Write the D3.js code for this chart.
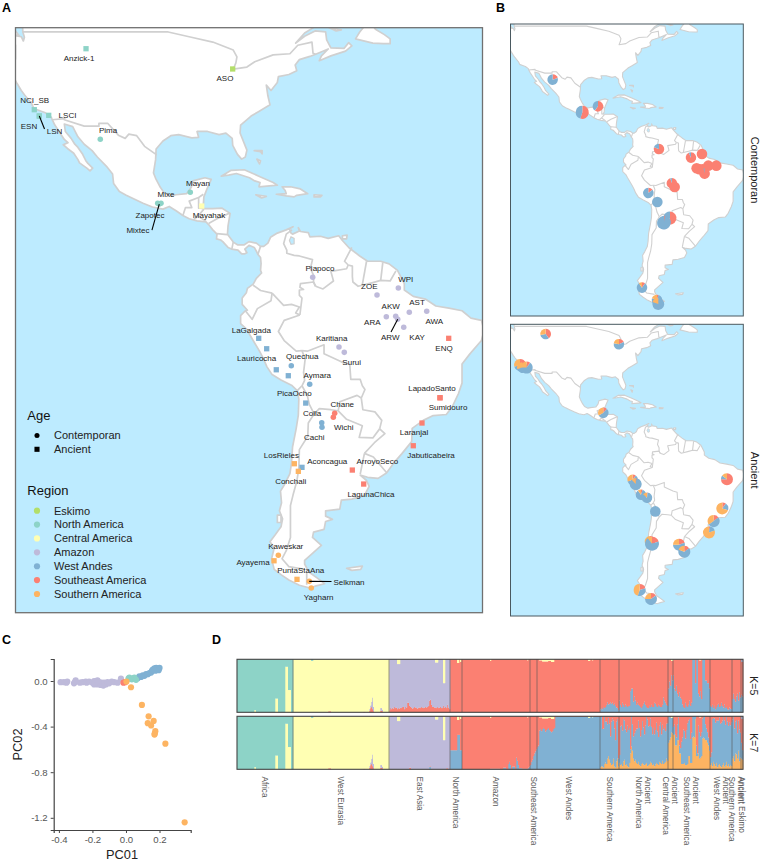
<!DOCTYPE html>
<html><head><meta charset="utf-8">
<script src="https://d3js.org/d3.v7.min.js"></script>
<style>
html,body{margin:0;padding:0;background:#fff}
svg{display:block}
text{font-family:"Liberation Sans",Arial,sans-serif}
</style></head><body>
<svg id="fig" width="763" height="861"></svg>
<script>
/* ---------- geography, lon / lat ---------- */
const americasCoast=[[-122.8,51],[-122.7,49],[-122.4,48],[-122.6,47.3],[-123,48.1],[-124.7,48.4],[-124.1,46.5],[-124.1,44],[-124.4,42.5],[-124.4,40.4],[-123.8,39.3],[-123,38],[-122.4,37.2],[-121.9,36.6],[-121,35.5],[-120.6,34.6],[-119.2,34.1],[-118.4,33.8],[-117.3,33],[-117.1,32.5],[-116.6,31.5],[-115.8,30.3],[-114.8,28.8],[-114.1,28.2],[-115,27.8],[-114.2,27.1],[-113,26.2],[-112.2,25],[-111.9,24.4],[-110.5,23.4],[-109.9,22.9],[-109.4,23.4],[-110.3,24.3],[-110.7,24.8],[-111.3,26],[-112.2,27.3],[-112.8,27.9],[-113.5,29],[-114.6,30.3],[-114.8,31.7],[-113.2,31.2],[-112.2,29.3],[-111,27.9],[-109.5,26.7],[-108.5,25.5],[-106.8,23.8],[-105.6,22.3],[-105.4,20.5],[-104.3,19],[-103,18.3],[-101.5,17.6],[-99.8,16.8],[-98,16.1],[-96,15.7],[-94.8,16.2],[-93.5,15.4],[-92.2,14.5],[-91,13.9],[-89.5,13.5],[-87.8,13.3],[-87.3,12.8],[-86.5,11.8],[-85.7,11],[-85.8,10.1],[-85,9.9],[-84.6,9.6],[-83.6,8.5],[-82.9,8.2],[-81.7,8],[-81,7.3],[-80.4,7.3],[-80,7.5],[-80.4,8.2],[-79.6,8.9],[-78.6,8.5],[-78.2,7.8],[-77.9,7.2],[-77.4,6.6],[-77.3,5.5],[-77.4,4.2],[-77.2,3.7],[-78.2,2.7],[-78.8,1.6],[-79.9,0.8],[-80.1,0],[-80.9,-1],[-80.9,-2.2],[-79.9,-3.3],[-80.3,-3.4],[-81.2,-4.3],[-81.2,-5.8],[-80,-6.9],[-79.4,-8],[-78.5,-9.5],[-77.6,-11],[-76.9,-12.3],[-76.2,-13.9],[-75.2,-15.4],[-73.5,-16.4],[-71.5,-17.4],[-70.4,-18.4],[-70.1,-20],[-70.2,-23],[-70.6,-25.5],[-71.3,-29],[-71.5,-32],[-71.8,-34],[-72.8,-36],[-73.6,-37.3],[-73.4,-39.5],[-73.8,-41],[-73.2,-42.5],[-73.5,-44],[-74.6,-45.5],[-75.6,-46.8],[-74.8,-48],[-75.3,-50],[-74.8,-52],[-73.5,-53],[-72,-54],[-70,-55],[-68,-55.5],[-66.8,-55.1],[-65.2,-54.7],[-66.5,-53.7],[-68.2,-52.5],[-69,-51],[-69,-50.3],[-67.5,-49],[-65.8,-47.5],[-67.5,-46],[-67.3,-45],[-65.3,-44.5],[-65,-43],[-63.7,-42.6],[-65,-42],[-65,-41],[-62.3,-40.7],[-62,-39],[-60,-38.8],[-57.6,-38.1],[-56.7,-36.4],[-57.2,-35.3],[-58.4,-34.3],[-57,-34.7],[-55,-34.9],[-53.4,-33.9],[-52,-32],[-50.5,-30.3],[-48.6,-28],[-48.5,-25.5],[-46.4,-24],[-44.5,-23.1],[-42,-22.9],[-40.9,-21.5],[-39.7,-19],[-39,-17],[-39,-13.4],[-37.5,-11.5],[-35.3,-9],[-34.8,-7.1],[-35.3,-5.2],[-37.3,-4.8],[-39,-3.4],[-41.5,-2.9],[-44,-2.5],[-46,-1.2],[-48.3,-0.7],[-50,0.5],[-50,1.7],[-51.3,4.2],[-52.9,5.4],[-54.5,5.9],[-57,5.9],[-58.5,6.9],[-60.5,8.4],[-61.8,9.8],[-62.5,10.7],[-64.5,10.2],[-66,10.6],[-68,10.5],[-68.3,11.3],[-69.8,11.5],[-70.2,12.2],[-70,11.6],[-71.3,11],[-71.6,11.2],[-71.9,12],[-71.2,12.4],[-72.5,11.8],[-74.2,11.2],[-75.5,10.4],[-76,9.3],[-76.8,8.7],[-77.4,8.7],[-78.2,9.3],[-79.6,9.6],[-80.5,9],[-81.8,9],[-82.6,9.5],[-83.7,11],[-83.6,12.5],[-83.2,14.9],[-84.8,15.9],[-86.5,15.8],[-88.2,15.8],[-88.9,15.9],[-88.3,16.5],[-88.2,18],[-87.6,19.5],[-86.8,21.3],[-88,21.6],[-90.3,21],[-90.6,19.8],[-91.5,18.6],[-93.5,18.4],[-94.5,18.2],[-95.8,18.8],[-96.5,19.8],[-97.4,21.5],[-97.8,22.5],[-97.4,25],[-97.3,27],[-96,28.5],[-94.5,29.5],[-93,29.7],[-90.5,29.1],[-89.2,29.2],[-89.5,30.3],[-87.5,30.3],[-85.3,29.7],[-84,30],[-82.8,29],[-82.7,27.7],[-81.8,26],[-81,25.1],[-80.3,25.5],[-80,26.8],[-81.3,30],[-81.2,31.5],[-79.2,33.2],[-77.8,34],[-75.6,35.3],[-76,37],[-76.3,39],[-75.4,38],[-74.2,39.5],[-74,40.6],[-72,41],[-70.5,41.7],[-70.8,42.8],[-70,43.8],[-68,44.4],[-66.9,44.8],[-64.5,45.8],[-65.8,44.5],[-66.2,43.6],[-64,44.5],[-61.2,45.4],[-60,46.4],[-60.6,47],[-61.5,45.9],[-64,46],[-64.8,47.5],[-65,49],[-67,49.2],[-69,48.2],[-70.7,46.9],[-69,48.8],[-67,50],[-60,50.3],[-56,52],[-60,55],[-90,60],[-122.8,60]];
const islands=[
 [[-125.5,51],[-123.4,48.3],[-125,48.6],[-126.5,49.8]],
 [[-59.3,47.7],[-56,46.9],[-54,46.8],[-52.7,46.8],[-52.7,47.7],[-53.8,48.5],[-55.5,49.5],[-56,50.2],[-57.5,50.2],[-58.5,49]],
 [[-64.5,49.9],[-62,49.4],[-63,49.2]],
 [[-84.9,21.9],[-83,23],[-80.5,23.1],[-77.5,21.8],[-75,20.7],[-74.2,20.2],[-77.7,19.9],[-77.5,20.7],[-78.5,21],[-79.5,21.6],[-82,22.4],[-83.5,22.1]],
 [[-78.3,18.4],[-76.3,18.1],[-77.2,17.8]],
 [[-74.4,18.5],[-72.5,18.2],[-71,18],[-70.5,18.3],[-68.4,18.6],[-69.8,19.5],[-71.7,19.9],[-73.3,19.9],[-72.7,19.2],[-72.5,18.6]],
 [[-67.2,18.4],[-65.7,18.3],[-66,18],[-67.2,18]],
 [[-78.1,25.1],[-77.6,24.2],[-77.4,24.8]],
 [[-78.6,26.7],[-77.1,26.7],[-77.1,26.1],[-77.4,26.5]],
 [[-61.8,10.7],[-60.9,10.8],[-61,10.1],[-61.8,10.1]],
 [[-61,-51.8],[-58,-51.4],[-58.3,-52],[-60,-52.2]],
 [[-74.2,-41.8],[-73.5,-41.8],[-73.5,-43.2],[-74.2,-43.2]]
];
const lakeMaracaibo=[[-71.6,10.5],[-71,10.2],[-71,9.2],[-71.6,9.1],[-71.9,9.8]];
const borders=[
 [[-122.8,49],[-95,49],[-90.8,48.05],[-86.5,47.1],[-82.6,45.6],[-81.9,44.3],[-82.1,43.2],[-82.6,42],[-80,42.4],[-78.5,43.4],[-75,44.7],[-71.8,44.9],[-70.3,46.5],[-67.6,47.1],[-67.4,45],[-66.9,44.8]],
 [[-117.1,32.5],[-114.7,32.7],[-114.8,32.5],[-111,31.3],[-108.2,31.3],[-108.2,31.8],[-106.5,31.8],[-104.5,29.6],[-103.2,29],[-102.5,29.8],[-101,29.5],[-99.5,27.5],[-97.2,25.9]],
 [[-92.2,14.5],[-91.7,16],[-90.5,16],[-91,17.2],[-89.2,17.9],[-88.3,18.5]],
 [[-89.2,17.9],[-89.2,15.9],[-88.9,15.9]],
 [[-88.2,15.7],[-89.3,14.4],[-90.1,13.8]],
 [[-89.3,14.4],[-87.8,13.4]],
 [[-87.3,13],[-85.7,13.9],[-83.2,15]],
 [[-85.7,11.1],[-83.7,10.9]],
 [[-82.6,9.5],[-82.9,8.1]],
 [[-77.4,8.7],[-77.9,7.2]],
 [[-71.4,11.8],[-72.5,11],[-73,9.2],[-72.4,8],[-72.4,7.4],[-71,7],[-70,6.9],[-67.5,6.2],[-67.9,4.5],[-67.3,3.3],[-67.3,2],[-66.9,1.2]],
 [[-66.9,1.2],[-67.3,2],[-69.8,1.7],[-69.9,1],[-69.2,0.6],[-70,0.5],[-70,-0.5],[-69.5,-1],[-69.9,-4.2]],
 [[-69.9,-4.2],[-70.7,-3.8],[-70,-2.7],[-71.5,-2.2],[-73,-2.4],[-75.2,-0.1]],
 [[-75.2,-0.1],[-77.4,0.4],[-78.8,1.4]],
 [[-75.2,-0.1],[-75.4,-1.5],[-78,-3],[-79,-5],[-80.3,-3.4]],
 [[-66.9,1.2],[-65.5,0.7],[-63.5,2.2],[-64,4],[-61,4.5],[-60.7,5.2]],
 [[-60.7,5.2],[-61.4,5.9],[-60,8.5]],
 [[-60.7,5.2],[-59.9,5],[-59.9,3],[-59.8,2],[-58.8,1.2],[-56,1.9],[-54.5,2.3],[-52.7,2.2],[-51.6,4.1]],
 [[-58,1.5],[-57.2,5.9]],
 [[-54.5,2.3],[-54.1,5.7]],
 [[-69.9,-4.2],[-72.9,-5.2],[-74,-7.3],[-72.9,-9],[-70.6,-11],[-69.5,-10.9]],
 [[-69.5,-10.9],[-68.9,-12.5],[-69.2,-15],[-69,-16.5],[-69.5,-17.5]],
 [[-69.5,-17.5],[-70.4,-18.4]],
 [[-69.5,-10.9],[-68.5,-11],[-65.3,-9.8],[-65.3,-11.5],[-62,-13],[-60.4,-13.5],[-60.2,-16.3],[-58.4,-16.3],[-58,-17.5],[-57.5,-18.2],[-58.2,-19.8]],
 [[-58.2,-19.8],[-59,-19.3],[-62.3,-20.5],[-62.6,-22.2]],
 [[-62.6,-22.2],[-64,-22],[-66.2,-21.8],[-67.2,-22.8]],
 [[-69.5,-17.5],[-68.5,-19.3],[-68.1,-21],[-67.2,-22.8]],
 [[-67.2,-22.8],[-68.3,-24.5],[-68.4,-27],[-70,-29.5],[-70.1,-33],[-70.5,-35.5],[-71.2,-38],[-71.7,-40],[-71.7,-44],[-71.7,-46],[-72.5,-48.5],[-73.3,-50],[-72,-51.5],[-69,-52]],
 [[-68.6,-52.6],[-68.6,-54.9]],
 [[-62.6,-22.2],[-61,-23.8],[-58,-25],[-58.6,-27.2],[-56,-27.3],[-54.7,-25.6]],
 [[-58.2,-19.8],[-57.9,-22],[-55.6,-22.4],[-54.3,-24],[-54.7,-25.6]],
 [[-54.7,-25.6],[-53.7,-26.5],[-55.7,-28.2],[-57.6,-30.2]],
 [[-57.6,-30.2],[-58.2,-33.1],[-58.4,-34.1]],
 [[-57.6,-30.2],[-55.9,-30.9],[-53.4,-33.8]]
];
/* ---------- panel A sites ---------- */
const regionNames=["Eskimo","North America","Central America","Amazon","West Andes","Southeast America","Southern America"];
const regionColors=["#B3DE69","#8DD3C7","#FFFFB3","#BEBADA","#80B1D3","#FB8072","#FDB462"];
const sites=[
 ["Anzick-1",-110.66,45.85,"North America","Ancient"],["ASO",-82.71,42.04,"Eskimo","Ancient"],
 ["NCI_SB",-120.52,34.39,"North America","Ancient"],["ESN",-119.56,33.2,"North America","Ancient"],
 ["LSN",-119.56,33.2,"North America","Ancient"],["LSCI",-117.77,33.33,"North America","Ancient"],
 ["Pima",-107.94,28.82,"North America","Contemporan"],["Mayan",-90.79,18.86,"North America","Contemporan"],
 ["Mixe",-96.37,16.8,"North America","Contemporan"],["Zapotec",-97.0,16.8,"North America","Contemporan"],
 ["Mixtec",-96.7,16.66,"North America","Contemporan"],["Mayahak",-88.61,16.28,"Central America","Ancient"],
 ["Piapoco",-67.46,2.9,"Amazon","Contemporan"],["ZOE",-55.2,-0.44,"Amazon","Contemporan"],
 ["WPI",-51.14,0.87,"Amazon","Contemporan"],["AST",-49.05,-3.7,"Amazon","Contemporan"],
 ["AWA",-45.73,-3.51,"Amazon","Contemporan"],["AKW",-51.64,-4.45,"Amazon","Contemporan"],
 ["ARA",-53.43,-4.52,"Amazon","Contemporan"],["ARW",-51.26,-5.01,"Amazon","Contemporan"],
 ["KAY",-50.11,-6.52,"Amazon","Contemporan"],["ENQ",-41.54,-8.58,"Southeast America","Ancient"],
 ["Karitiana",-62.45,-10.22,"Amazon","Contemporan"],["Surui",-61.44,-11.22,"Amazon","Contemporan"],
 ["LaGalgada",-77.75,-8.58,"West Andes","Ancient"],["Lauricocha",-76.23,-10.54,"West Andes","Ancient"],
 ["",-74.4,-14.49,"West Andes","Ancient"],["",-72.11,-15.61,"West Andes","Ancient"],
 ["Quechua",-71.54,-13.73,"West Andes","Contemporan"],["Aymara",-68.03,-17.23,"West Andes","Contemporan"],
 ["PicaOcho",-68.79,-20.75,"West Andes","Ancient"],["Colla",-65.74,-24.45,"West Andes","Contemporan"],
 ["Cachi",-65.69,-25.31,"West Andes","Contemporan"],["Chane",-63.27,-22.68,"Southeast America","Contemporan"],
 ["Wichi",-63.53,-23.43,"Southeast America","Contemporan"],["LapadoSanto",-43.2,-19.75,"Southeast America","Ancient"],
 ["Sumidouro",-43.2,-19.75,"Southeast America","Ancient"],["Laranjal",-46.63,-24.5,"Southeast America","Ancient"],
 ["Jabuticabeira",-48.29,-28.77,"Southeast America","Ancient"],["Aconcagua",-69.5,-32.83,"West Andes","Ancient"],
 ["LosRieles",-70.96,-32.15,"Southern America","Ancient"],["Conchali",-70.2,-33.58,"Southern America","Ancient"],
 ["ArroyoSeco",-59.91,-33.34,"Southeast America","Ancient"],["LagunaChica",-57.74,-35.97,"Southeast America","Ancient"],
 ["Kaweskar",-74.01,-49.37,"Southern America","Contemporan"],["Ayayema",-74.83,-50.39,"Southern America","Ancient"],
 ["PuntaStaAna",-70.45,-53.88,"Southern America","Ancient"],["Selkman",-68.11,-54.26,"Southern America","Contemporan"],
 ["Yagharn",-67.73,-55.52,"Southern America","Contemporan"]
];
const labelOffsets={"Anzick-1":[-7,9.3],"ASO":[-7.7,9],"NCI_SB":[0.4,-9.2],"ESN":[-10.3,10],"LSN":[15.2,15],"LSCI":[18.8,-0.3],"Pima":[7.7,-9.3],"Mayan":[7.7,-9.3],"Mixe":[5,-9.3],"Zapotec":[-7.7,11.7],"Mixtec":[-21.3,26],"Mayahak":[7.3,9],"Piapoco":[7.3,-9.3],"ZOE":[-7.7,-9.3],"WPI":[7.4,-9],"AST":[7.7,-10.3],"AWA":[7.6,9.7],"AKW":[-5,-10.3],"ARA":[-14,5],"ARW":[-7.4,17.7],"KAY":[13.3,9.4],"ENQ":[-4.7,9.4],"Karitiana":[-7.3,-9.3],"Surui":[7.4,9.7],"LaGalgada":[-7.4,-8.6],"Lauricocha":[-10,9.6],"Quechua":[11,-9.4],"Aymara":[7.6,-9.3],"PicaOcho":[-11.4,-9.7],"Colla":[-9.7,-9.4],"Chane":[7.6,-9],"Wichi":[10.4,9.7],"Cachi":[-7.7,9.4],"LapadoSanto":[-8,-9.4],"Sumidouro":[8,9.6],"Laranjal":[-8,9.3],"Jabuticabeira":[17.7,9.6],"LosRieles":[-13,-9],"Aconcagua":[25.3,-6],"Conchali":[-7.6,9.7],"ArroyoSeco":[25,-8.7],"LagunaChica":[7.3,10],"Kaweskar":[7.4,-9.3],"Ayayema":[-21,1.3],"PuntaStaAna":[3.7,-9.3],"Selkman":[39.7,0.7],"Yagharn":[7.4,9.3]};
const leaderEnds={"LSN":[5.2,13],"Mixtec":[-7.3,26],"ARW":[-6.7,12.7],"Selkman":[22.2,0.2]};
/* ---------- panel B pies: lon, lat, red, blue, orange, samples ---------- */
const contemporanPies=[
 [-107.98,28.84,20,80,0,1],[-96.64,16.54,55,45,0,3],[-90.65,18.8,60,40,0,1],[-67.34,2.74,80,20,0,1],
 [-55.1,-0.53,93,7,0,1],[-50.9,0.85,100,0,0,1],[-52.94,-4.54,100,0,0,1],[-50.65,-4.92,100,0,0,1],
 [-48.48,-3.54,100,0,0,1],[-45.42,-3.54,100,0,0,1],[-51.92,-4.92,100,0,0,1],[-49.9,-6.55,97,3,0,1],
 [-62.4,-10.19,95,5,0,1],[-61.35,-11.57,100,0,0,1],[-71.41,-13.83,15,85,0,1],[-67.97,-17.22,0,100,0,1],
 [-63.13,-23.24,60,40,0,3],[-65.55,-25.12,3,97,0,3],[-65.3,-24.9,3,97,0,3],[-73.83,-49.47,10,80,10,1],
 [-68.1,-54.1,5,75,20,1],[-67.6,-55.62,0,80,20,2]
];
const ancientPies=[
 [-110.66,46.16,40,32,28,1],[-82.63,42.27,18,60,22,1],[-120.47,34.49,20,50,30,2],[-119.58,33.48,10,60,30,1],
 [-117.92,33.48,10,65,25,2],[-88.61,16.42,12,55,33,1],[-77.4,-8.8,10,60,30,1],[-76.25,-10.44,3,85,12,2],
 [-74.22,-14.46,5,85,10,1],[-71.92,-15.59,2,85,13,1],[-68.74,-20.73,0,100,0,1],[-70.78,-32.03,15,30,55,1],
 [-70,-32.9,20,70,10,4],[-59.69,-33.28,20,55,25,2],[-57.65,-35.92,15,65,20,2],[-41.34,-8.56,75,10,15,2],
 [-43.13,-19.6,10,20,70,2],[-46.44,-24.37,15,50,35,2],[-48.22,-28.64,3,17,80,2],[-74.72,-50.35,20,35,45,2],
 [-70.38,-53.74,15,60,25,2]
];
const pieKeys=["Southeast America","West Andes","Southern America"];
/* ---------- panel C ---------- */
const pcAmazon=[[-0.39,-0.01],[-0.37,-0.01],[-0.355,-0.015],[-0.35,-0.005],[-0.305,-0.01],[-0.31,-0.02],[-0.30,0.005],[-0.275,-0.015],[-0.26,-0.01],[-0.24,-0.005],[-0.235,-0.015],[-0.22,-0.005],[-0.2,-0.015],[-0.19,0],[-0.185,-0.02],[-0.17,-0.03],[-0.16,-0.01],[-0.15,-0.035],[-0.145,-0.015],[-0.135,-0.04],[-0.13,-0.015],[-0.12,-0.03],[-0.11,-0.01],[-0.1,-0.02],[-0.085,-0.005],[-0.07,-0.01],[-0.05,-0.015],[-0.03,0.02],[-0.19,-0.03],[-0.17,0.005]];
const pcAndes=[[0.07,0.025],[0.08,0.04],[0.09,0.035],[0.1,0.05],[0.11,0.045],[0.12,0.06],[0.13,0.06],[0.14,0.07],[0.15,0.075],[0.155,0.09],[0.16,0.1],[0.17,0.11],[0.18,0.115],[0.19,0.11],[0.2,0.115],[0.195,0.095],[0.175,0.09]];
const pcNorth=[[0.015,0.02],[0.02,0.03],[0.035,0.015],[0.04,0.02],[0.05,0.03],[0.06,0.01]];
const pcSoutheast=[[-0.015,-0.015],[-0.005,-0.01]];
const pcSouthern=[[0.003,-0.005],[0.03,-0.055],[0.095,-0.21],[0.135,-0.31],[0.13,-0.37],[0.15,-0.39],[0.165,-0.35],[0.175,-0.44],[0.17,-0.47],[0.172,-0.46],[0.235,-0.55],[0.35,-1.24]];
const pcTicksX=[-0.4,-0.2,0,0.2];
const pcTicksY=[0,-0.4,-0.8,-1.2];
/* ---------- panel D: run-length [value,count] per ancestry, in % ---------- */
const groupLabels=[["Africa"],["West Eurasia"],["East Asia"],["North America"],["Amazon"],["Southeast America"],["West Andes"],["Southern America"],["Ancient","North America"],["Ancient","Central America"],["Ancient","Southeast America"],["Ancient","West Andes"],["Ancient","Southern America"],["Ancient Eskimo"]];
const groupSizes=[56,96,61,12,68,7,63,19,49,5,37,22,9,2];
const greenRuns=[[100,17],[96,2],[100,19],[74,3],[100,7],[14,3],[58,3],[100,2],[0,18],[3,2]];
const yellowRuns=[[0,17],[4,2],[0,19],[26,3],[0,7],[86,3],[42,3],[0,2],
 [100,18],[97,2],[100,15],[98,3],[100,32],[99,2],[100,4],[94,1],[87,1],[80,1],[72,1],[90,1],[100,6],[92,2],[95,1],[100,6],
 [0,8],[9,3],[0,35],[6,3],[0,5],[45,2],[0,5],
 [0,7],[7,2],[0,1],[5,1],[0,1],
 [0,28],[3,1],[0,36],[2,1],[0,11],
 [2,3],[4,6],[3,3],[5,3],[0,34],[3,2],[0,2],[2,1],[0,9],
 [0,69],[3,2],[0,26],[2,2]];
const lilacEurasiaRuns=[[0,132],[3,1],[5,1],[10,1],[22,1],[8,1],[0,6],[5,2],[3,1],[0,6]];
const k5LilacEastAsia=[96,92,94,91,93,90,92,91,85,83,84,91,92,90,90,94,90,91,82,82,88,90,91,93,92,90,91,92,93,91,91,92,90,91,92,91,90,91,90,88,78,76,86,90,90,91,85,86,84,92,91,90,92,92,43,46,90,92,86,91,94];
const k7LilacEastAsiaRuns=[[100,8],[91,3],[100,9],[97,2],[100,18],[94,2],[100,4],[94,3],[100,5],[55,2],[100,1],[98,2],[100,2]];
const k5BlueTail=[5,8,6,10,8,10,14,19,15,16,19,16,18,14,16,12,9,8,4,
 22,14,10,18,14,10,15,12,10,12,12,40,45,45,20,30,22,14,18,14,12,10,8,12,16,20,14,10,8,8,12,10,14,10,10,18,16,12,10,14,12,10,10,14,28,22,18,14,12,
 45,58,50,70,60,
 70,45,40,50,35,30,38,28,25,15,10,8,18,12,10,14,22,12,18,100,100,100,55,100,100,35,30,40,25,100,100,100,60,60,55,55,45,
 12,10,14,8,12,6,10,14,16,10,12,18,12,9,15,8,10,6,5,9,7,6,
 25,35,25,20,30,35,22,38,28,
 33,30];
const k7BlueEastAsiaRuns=[[0,40],[5,2],[0,19]];
const k7BlueNorthAmerica=[36,36,36,36,36,36,36,65,65,65,36,36];
const k7BlueAmazonRuns=[[0,28],[1,10],[0,3],[3,3],[0,2],[10,1],[14,1],[8,1],[0,1],[5,3],[0,1],[22,1],[16,1],[8,1],[2,3],[1,6],[3,1],[5,1],[8,1],[14,1]];
const k7BlueSoutheast=[18,25,30,34,38,42,45];
const k7BlueWestAndes=[73,76,72,76,78,76,71,74,76,78,74,72,70,72,76,78];
const k7BlueWestAndesRest=[[99,47]];
const k7BlueTail=[71,74,90,77,80,65,72,68,50,82,86,72,72,52,75,75,15,15,73,
 73,67,80,74,67,60,77,70,66,8,70,50,42,53,55,65,67,78,70,56,64,79,70,58,73,92,88,73,72,82,68,58,68,60,65,76,61,53,68,77,56,68,65,66,58,66,71,60,59,
 38,35,32,15,20,
 20,15,30,43,15,10,42,50,65,60,50,66,77,67,70,45,57,63,58,40,38,20,5,53,50,40,45,38,47,42,30,22,20,15,15,15,20,
 89,83,86,82,80,88,84,88,80,84,84,88,87,76,85,84,72,84,75,83,74,74,
 62,60,65,48,57,60,47,30,18,
 72,75];
const k7OrangeTail=[4,6,5,3,10,13,10,20,25,18,12,8,10,20,5,3,15,20,5,
 12,8,10,6,15,18,8,10,6,4,12,30,43,35,20,15,18,12,10,14,8,6,10,12,9,8,10,12,6,8,10,14,12,8,10,6,9,12,10,8,14,12,10,16,10,12,14,20,16,
 50,55,60,70,68,
 65,65,45,45,55,55,30,30,10,10,10,12,8,8,10,25,25,12,12,60,62,60,95,25,25,30,20,22,25,58,60,58,55,55,50,45,35,
 8,12,6,14,10,6,12,4,8,10,6,4,8,12,5,8,14,6,10,5,8,6,
 20,25,15,30,28,20,35,15,22,
 20,18];
const eskimoLilac=[5,5];

/* ---------- helpers ---------- */
const decode=r=>r.flatMap(([v,n])=>Array(n).fill(v));
const pad=(a,n)=>a.concat(Array(Math.max(0,n-a.length)).fill(0));
const color=d3.scaleOrdinal(regionNames,regionColors);
const svg=d3.select("#fig");
const lineGen=(x,y)=>d3.line().x(d=>x(d[0])).y(d=>y(d[1]));
const LON=[-124.1,-35.1],LAT=[49.8,-60.15];
const SEA="#BDEBFF",LANDLINE="#D0D0D0";

function drawMap(g,box,id,lineW,frame,frameW){
 const x=d3.scaleLinear(LON,[box.x0,box.x1]),y=d3.scaleLinear(LAT,[box.y0,box.y1]);
 const line=lineGen(x,y);
 const closed=d=>line(d)+"Z";
 svg.append("clipPath").attr("id",id).append("rect").attr("x",box.x0).attr("y",box.y0).attr("width",box.x1-box.x0).attr("height",box.y1-box.y0);
 const m=g.append("g").attr("clip-path",`url(#${id})`);
 m.append("rect").attr("x",box.x0).attr("y",box.y0).attr("width",box.x1-box.x0).attr("height",box.y1-box.y0).attr("fill",SEA);
 m.selectAll("path.land").data([americasCoast,...islands]).join("path").attr("class","land").attr("d",closed)
  .attr("fill","#fff").attr("stroke",LANDLINE).attr("stroke-width",lineW).attr("stroke-linejoin","round");
 m.selectAll("path.border").data(borders).join("path").attr("class","border").attr("d",line)
  .attr("fill","none").attr("stroke",LANDLINE).attr("stroke-width",lineW).attr("stroke-linejoin","round");
 m.append("path").attr("d",closed(lakeMaracaibo)).attr("fill",SEA).attr("stroke",LANDLINE).attr("stroke-width",lineW*0.7);
 return {x,y,frame:()=>g.append("rect").attr("x",box.x0).attr("y",box.y0).attr("width",box.x1-box.x0).attr("height",box.y1-box.y0).attr("fill","none").attr("stroke",frame).attr("stroke-width",frameW)};
}
const letters=[["A",2,12],["B",496,12],["C",2,644],["D",212,644]];
svg.selectAll("text.letter").data(letters).join("text").attr("class","letter").attr("x",d=>d[1]).attr("y",d=>d[2]).text(d=>d[0])
 .attr("font-size",12.5).attr("font-weight","bold").attr("fill","#000");

/* ---------- Panel A ---------- */
{
 const g=svg.append("g");
 const map=drawMap(g,{x0:15.5,x1:482.5,y0:27.7,y1:612.7},"clipA",1.7,"#707070",1.3);
 const sym={Contemporan:d3.symbol(d3.symbolCircle,24)(),Ancient:d3.symbol(d3.symbolSquare,28)()};
 g.selectAll("path.site").data(sites).join("path").attr("class","site")
  .attr("d",d=>sym[d[4]]).attr("transform",d=>`translate(${map.x(d[1])},${map.y(d[2])})`).attr("fill",d=>color(d[3]));
 g.selectAll("line.leader").data(sites.filter(d=>leaderEnds[d[0]])).join("line").attr("class","leader")
  .attr("x1",d=>map.x(d[1])).attr("y1",d=>map.y(d[2]))
  .attr("x2",d=>map.x(d[1])+leaderEnds[d[0]][0]).attr("y2",d=>map.y(d[2])+leaderEnds[d[0]][1])
  .attr("stroke","#000").attr("stroke-width",1.1);
 g.selectAll("text.site").data(sites.filter(d=>d[0])).join("text").attr("class","site")
  .attr("x",d=>map.x(d[1])+labelOffsets[d[0]][0]).attr("y",d=>map.y(d[2])+labelOffsets[d[0]][1])
  .attr("dy","0.35em").attr("text-anchor","middle").attr("font-size",8).attr("fill","#222").text(d=>d[0]);
 map.frame();
 const ageItems=["Contemporan","Ancient"];
 g.append("text").attr("x",27.3).attr("y",420).attr("font-size",13).attr("fill","#111").text("Age");
 const ageY=d3.scalePoint(ageItems,[435.5,449.3]);
 g.selectAll("path.ageKey").data(ageItems).join("path").attr("class","ageKey").attr("d",d=>d==="Ancient"?d3.symbol(d3.symbolSquare,26)():d3.symbol(d3.symbolCircle,20)())
  .attr("transform",d=>`translate(37,${ageY(d)})`).attr("fill","#000");
 g.selectAll("text.ageKey").data(ageItems).join("text").attr("class","ageKey").attr("x",54).attr("y",d=>ageY(d)).attr("dy","0.35em")
  .attr("font-size",11).attr("fill","#222").text(d=>d);
 g.append("text").attr("x",27.3).attr("y",495).attr("font-size",13).attr("fill","#111").text("Region");
 const regY=d3.scalePoint(regionNames,[510.7,594]);
 g.selectAll("circle.reg").data(regionNames).join("circle").attr("class","reg").attr("cx",37).attr("cy",d=>regY(d)).attr("r",3.1).attr("fill",d=>color(d));
 g.selectAll("text.reg").data(regionNames).join("text").attr("class","reg").attr("x",54).attr("y",d=>regY(d)).attr("dy","0.35em")
  .attr("font-size",11).attr("fill","#222").text(d=>d);
}

/* ---------- Panel B ---------- */
const pieGen=d3.pie().sort(null);
const rScale=d3.scaleSqrt([1,4],[5.3,7]);
const arcGen=d3.arc().innerRadius(0);
function pieMap(box,id,data,strip){
 const g=svg.append("g");
 const map=drawMap(g,box,id,1.1,"#4a5960",1);
 const pies=g.selectAll("g.pie").data(data).join("g").attr("class","pie")
  .attr("transform",d=>`translate(${map.x(d[0])},${map.y(d[1])})`);
 pies.selectAll("path").data(d=>pieGen([d[2],d[3],d[4]]).map((a,i)=>({a,key:pieKeys[i],r:rScale(d[5])}))).join("path")
  .attr("d",d=>arcGen.outerRadius(d.r)(d.a)).attr("fill",d=>color(d.key));
 map.frame();
 g.append("text").attr("transform",`translate(750.5,${(box.y0+box.y1)/2}) rotate(90)`).attr("text-anchor","middle")
  .attr("font-size",11).attr("fill","#222").text(strip);
}
pieMap({x0:510.5,x1:743.3,y0:24,y1:316},"clipB1",contemporanPies,"Contemporan");
pieMap({x0:510.5,x1:743.3,y0:324.3,y1:616},"clipB2",ancientPies,"Ancient");

/* ---------- Panel C ---------- */
{
 const g=svg.append("g");
 const x=d3.scaleLinear([-0.431,0.386],[53.7,190.7]);
 const y=d3.scaleLinear([0.193,-1.307],[659,830]);
 const groups=[[pcAmazon,"Amazon"],[pcAndes,"West Andes"],[pcNorth,"North America"],[pcSoutheast,"Southeast America"],[pcSouthern,"Southern America"]];
 groups.forEach(([pts,r])=>{
  g.selectAll(null).data(pts).join("circle").attr("cx",d=>x(d[0])).attr("cy",d=>y(d[1])).attr("r",3.1).attr("fill",color(r));
 });
 const ax=g.append("g").attr("transform","translate(0,830)").call(d3.axisBottom(x).tickValues(pcTicksX).tickFormat(d3.format(".1f")).tickSize(3).tickPadding(3));
 const ay=g.append("g").attr("transform","translate(53.7,0)").call(d3.axisLeft(y).tickValues(pcTicksY).tickFormat(d3.format(".1f")).tickSize(3).tickPadding(3));
 [ax,ay].forEach(a=>{
  a.select(".domain").attr("stroke","#444").attr("stroke-width",1.2);
  a.selectAll(".tick line").attr("stroke","#444").attr("stroke-width",1);
  a.selectAll(".tick text").attr("font-size",9.6).attr("fill","#555").attr("font-family","'Liberation Sans',Arial,sans-serif").text(function(){return this.textContent.replace("−","-");});
 });
 g.append("text").attr("x",122).attr("y",859).attr("text-anchor","middle").attr("font-size",12.8).attr("fill","#222").text("PC01");
 g.append("text").attr("transform","translate(22,744.5) rotate(-90)").attr("text-anchor","middle").attr("font-size",12.8).attr("fill","#222").text("PC02");
}

/* ---------- Panel D ---------- */
{
 const g=svg.append("g");
 const total=d3.sum(groupSizes);
 const x=d3.scaleLinear([0,total],[237,743]);
 const bounds=d3.cumsum(groupSizes);
 const keys=["Southern America","West Andes","Southeast America","Amazon","Central America","North America"];
 const green=pad(decode(greenRuns),total),yellow=pad(decode(yellowRuns),total);
 const lilacEur=decode(lilacEurasiaRuns);
 const head=bounds[2]-61;
 const k5Lilac=pad(lilacEur.slice(0,head).concat(k5LilacEastAsia),total);
 const k7Lilac=pad(lilacEur.slice(0,head).concat(decode(k7LilacEastAsiaRuns)),total);
 k5Lilac[total-2]=k7Lilac[total-2]=eskimoLilac[0];k5Lilac[total-1]=k7Lilac[total-1]=eskimoLilac[1];
 const k5Blue=Array(bounds[6]).fill(0).concat(k5BlueTail);
 const k7Blue=Array(head).fill(0).concat(decode(k7BlueEastAsiaRuns),k7BlueNorthAmerica,decode(k7BlueAmazonRuns),k7BlueSoutheast,k7BlueWestAndes,decode(k7BlueWestAndesRest),k7BlueTail);
 const k7Orange=Array(bounds[6]).fill(0).concat(k7OrangeTail);
 const k5Orange=Array(total).fill(0);
 function columns(orange,blue,lilac){
  return d3.range(total).map(i=>{
   const fixed=orange[i]+lilac[i]+yellow[i]+green[i];
   const b=Math.min(blue[i],Math.max(0,100-fixed));
   return {i,"Southern America":orange[i],"West Andes":b,"Southeast America":Math.max(0,100-fixed-b),"Amazon":lilac[i],"Central America":yellow[i],"North America":green[i]};
  });
 }
 const rows=[{label:"K=5",y0:659.3,y1:712.3,data:columns(k5Orange,k5Blue,k5Lilac)},{label:"K=7",y0:716.3,y1:769.3,data:columns(k7Orange,k7Blue,k7Lilac)}];
 rows.forEach(r=>{
  const y=d3.scaleLinear([0,100],[r.y1,r.y0]);
  const series=d3.stack().keys(keys)(r.data);
  const row=g.append("g");
  row.selectAll("g").data(series).join("g").attr("fill",s=>color(s.key))
   .selectAll("rect").data(s=>s.filter(d=>d[1]>d[0])).join("rect")
   .attr("x",d=>x(d.data.i)).attr("width",x(1)-x(0)+0.3).attr("y",d=>y(d[1])).attr("height",d=>y(d[0])-y(d[1]));
  row.selectAll("line").data(bounds.slice(0,-1)).join("line")
   .attr("x1",d=>x(d)).attr("x2",d=>x(d)).attr("y1",r.y0).attr("y2",r.y1).attr("stroke","#555").attr("stroke-opacity",0.6).attr("stroke-width",1);
  row.append("rect").attr("x",237).attr("y",r.y0).attr("width",506).attr("height",r.y1-r.y0).attr("fill","none").attr("stroke","#444").attr("stroke-width",1.1);
  row.append("text").attr("transform",`translate(750,${(r.y0+r.y1)/2}) rotate(90)`).attr("text-anchor","middle").attr("font-size",10.5).attr("fill","#222").text(r.label);
 });
 groupLabels.forEach((lines,i)=>{
  const cx=x((i?bounds[i-1]:0)+groupSizes[i]/2);
  lines.forEach((t,j)=>{
   const off=lines.length===2?(j===0?4.4:-4.4):0;
   g.append("text").attr("transform",`translate(${cx+off},776.5) rotate(90)`).attr("dy","0.35em")
    .attr("font-size",8.2).attr("fill","#5a5a5a").text(t);
  });
 });
}
</script></body></html>
